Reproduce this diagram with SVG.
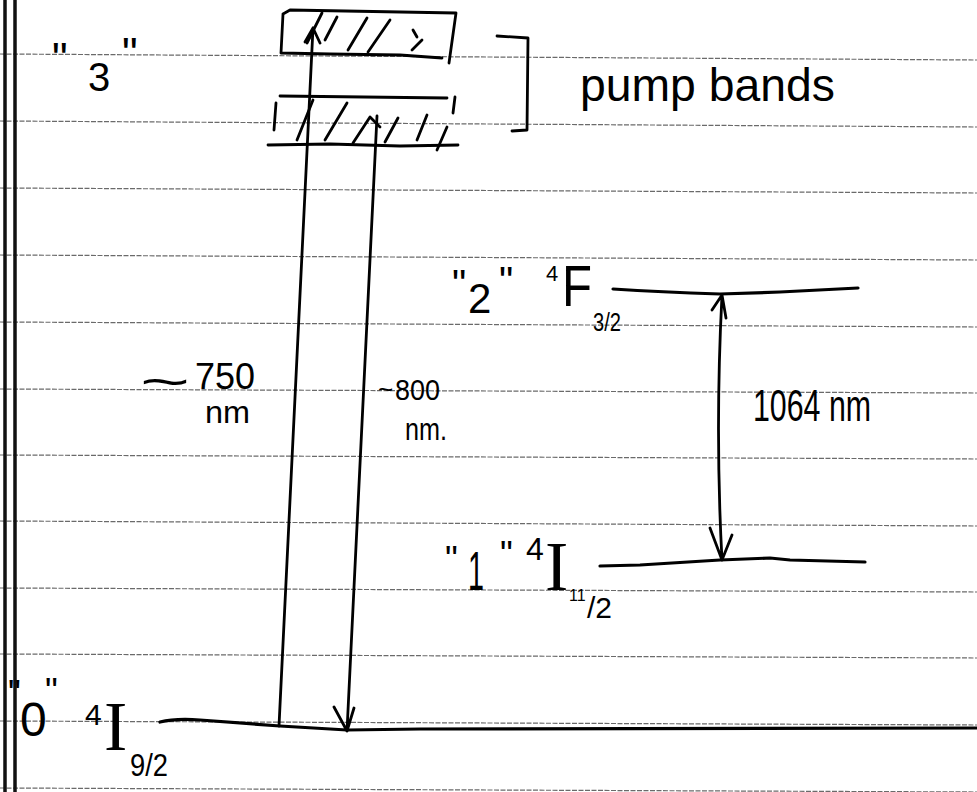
<svg xmlns="http://www.w3.org/2000/svg" width="977" height="792" viewBox="0 0 977 792">
<style>
.rule{stroke:#6a6a6a;stroke-width:1.2;stroke-dasharray:5 1.5;fill:none}
.margin{stroke:#111;stroke-width:3.5;fill:none}
.pen{stroke:#000;stroke-width:2.8;fill:none;stroke-linecap:round;stroke-linejoin:round}
.lvl{stroke:#000;stroke-width:3.2;fill:none;stroke-linecap:round}
.hw{font-family:"Liberation Sans",Arial,sans-serif;fill:#000}
.hs{font-family:"Liberation Serif","Times New Roman",serif}
</style>
<rect width="977" height="792" fill="#fff"/>
<g id="paper">
<line class="rule" x1="0" y1="54" x2="977" y2="60"/>
<line class="rule" x1="0" y1="121" x2="977" y2="127"/>
<line class="rule" x1="0" y1="188" x2="977" y2="193"/>
<line class="rule" x1="0" y1="255" x2="977" y2="260"/>
<line class="rule" x1="0" y1="322" x2="977" y2="327"/>
<line class="rule" x1="0" y1="389" x2="977" y2="393"/>
<line class="rule" x1="0" y1="455" x2="977" y2="459"/>
<line class="rule" x1="0" y1="521" x2="977" y2="526"/>
<line class="rule" x1="0" y1="588" x2="977" y2="592"/>
<line class="rule" x1="0" y1="654" x2="977" y2="658"/>
<line class="rule" x1="0" y1="721" x2="977" y2="725"/>
<line class="rule" x1="0" y1="788" x2="977" y2="792"/>
<line class="margin" x1="5" y1="0" x2="5" y2="792"/>
<line class="margin" x1="15" y1="0" x2="15" y2="792"/>
</g>
<g id="level3-pump-bands">
<path class="pen" d="M283,14 L290,10 L456,13 M283,14 L281,53 L330,54 L400,55 L442,58 M456,13 L449,63"/>
<path class="pen" d="M307,43 L322,13 M325,40 L337,17 M348,50 L367,18 M368,52 L390,20 M412,50 L422,40 M413,30 L417,37"/>
<path class="pen" d="M280,96 L447,98 M268,145 L330,144 L400,146 L458,145 M276,103 L274,130 M455,97 L453,113"/>
<path class="pen" d="M297,140 L313,100 M325,140 L347,103 M353,143 L370,117 L380,127 M385,142 L398,118 M417,140 L427,115 M437,150 L447,127"/>
<path class="pen" d="M497,36 L528,38 L527,130 L512,131"/>
<text class="hw" x="52" y="74" font-size="44">"</text>
<text class="hw" x="88" y="91" font-size="40">3</text>
<text class="hw" x="122" y="69" font-size="44">"</text>
<text class="hw" x="580" y="101" font-size="46" textLength="255" lengthAdjust="spacingAndGlyphs">pump bands</text>
</g>
<g id="level2">
<path class="lvl" d="M613,289 Q660,292 720,294 L780,292 L858,288"/>
<text class="hw" x="452" y="298" font-size="40">"</text>
<text class="hw" x="468" y="313" font-size="42">2</text>
<text class="hw" x="499" y="295" font-size="40">"</text>
<text class="hw" x="546" y="281" font-size="22">4</text>
<text class="hw" x="562" y="306" font-size="58" textLength="30" lengthAdjust="spacingAndGlyphs">F</text>
<text class="hw" x="593" y="331" font-size="26" textLength="28" lengthAdjust="spacingAndGlyphs">3/2</text>
</g>
<g id="level1">
<path class="lvl" d="M600,566 L640,565 L720,560 L770,558 L790,560 L865,562"/>
<text class="hw" x="445" y="572" font-size="36">"</text>
<text class="hw" x="468" y="590" font-size="56" textLength="16" lengthAdjust="spacingAndGlyphs">1</text>
<text class="hw" x="500" y="567" font-size="36">"</text>
<text class="hw" x="526" y="560" font-size="32">4</text>
<text class="hw hs" x="545" y="590" font-size="70">I</text>
<text class="hw" x="569" y="601" font-size="16">11</text>
<text class="hw" x="587" y="618" font-size="30">/2</text>
</g>
<g id="level0">
<path class="lvl" d="M160,722 C172,719 186,719 200,720 L280,726 L347,730 L420,729 L977,728"/>
<text class="hw" x="8" y="706" font-size="36">"</text>
<text class="hw" x="20" y="736" font-size="48">0</text>
<text class="hw" x="45" y="704" font-size="36">"</text>
<text class="hw" x="85" y="725" font-size="30">4</text>
<text class="hw hs" x="104" y="750" font-size="70">I</text>
<text class="hw" x="130" y="776" font-size="32" textLength="38" lengthAdjust="spacingAndGlyphs">9/2</text>
</g>
<g id="connectors">
<g id="pump-750">
<path class="pen" d="M279,726 L313,28 M305,42 L313,28 L320,43"/>
<text class="hw" x="140" y="398" font-size="48" textLength="50" lengthAdjust="spacingAndGlyphs">~</text>
<text class="hw" x="195" y="389" font-size="36" textLength="60" lengthAdjust="spacingAndGlyphs">750</text>
<text class="hw" x="205" y="423" font-size="32" textLength="45" lengthAdjust="spacingAndGlyphs">nm</text>
</g>
<g id="pump-800">
<path class="pen" d="M377,116 L347,731 M334,707 L347,731 L354,708"/>
<text class="hw" x="378" y="398" font-size="26">~</text>
<text class="hw" x="395" y="400" font-size="30" textLength="45" lengthAdjust="spacingAndGlyphs">800</text>
<text class="hw" x="405" y="440" font-size="32" textLength="42" lengthAdjust="spacingAndGlyphs">nm.</text>
</g>
<g id="laser-1064">
<path class="pen" d="M722,295 Q715,430 722,560 M712,310 L722,295 L726,318 M710,528 L722,560 L732,535"/>
<text class="hw" x="753" y="421" font-size="44" textLength="118" lengthAdjust="spacingAndGlyphs">1064 nm</text>
</g>
</g>
</svg>
